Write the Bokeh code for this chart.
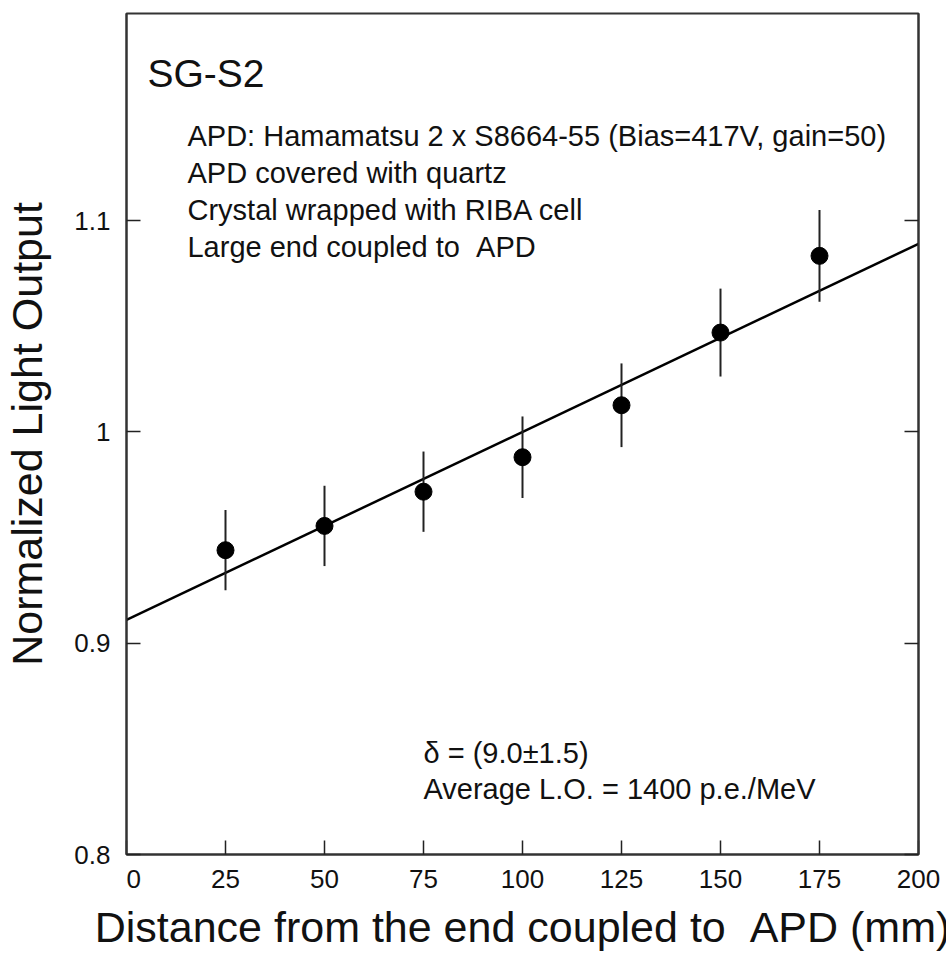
from bokeh.plotting import figure
from bokeh.models import (Range1d, LinearAxis, FixedTicker, Label,
                          ColumnDataSource, CustomJSTickFormatter,
                          CustomLabelingPolicy)
from bokeh.embed import file_html
from bokeh.resources import INLINE

# ---- data ----
dist = [25, 50, 75, 100, 125, 150, 175]
light = [0.944, 0.9555, 0.9717, 0.988, 1.0126, 1.047, 1.0833]
err = [0.019, 0.019, 0.019, 0.0193, 0.0198, 0.0208, 0.0217]
fit_x = [0, 200]
fit_y = [0.911, 1.089]
x_ticks = [0, 25, 50, 75, 100, 125, 150, 175, 200]
y_ticks = [0.8, 0.9, 1.0, 1.1]

FONT = "Liberation Sans"

src = ColumnDataSource(dict(
    x=dist, y=light,
    lo=[v - e for v, e in zip(light, err)],
    hi=[v + e for v, e in zip(light, err)],
))

p = figure(width=946, height=953, output_backend="svg", toolbar_location=None,
           x_range=Range1d(0, 200), y_range=Range1d(0.8, 1.198),
           min_border_left=126, min_border_right=28, min_border_top=13,
           min_border_bottom=98, background_fill_color="white",
           border_fill_color="white")
p.grid.visible = False
p.outline_line_color = "#333333"
p.outline_line_width = 2

# fit line
p.line(fit_x, fit_y, line_color="black", line_width=2.5)
# error bars
p.segment(x0="x", y0="lo", x1="x", y1="hi", source=src, line_color="#222222",
          line_width=2)
# points
p.scatter("x", "y", source=src, size=17, color="black")

# x axis
xa = p.xaxis[0]
xa.ticker = FixedTicker(ticks=x_ticks)
xa.formatter = CustomJSTickFormatter(
    code="return tick == 0 ? '\\u20070' : String(tick);")
xa.axis_label = "Distance from the end coupled to \u00a0APD (mm)"
ya = p.yaxis[0]
ya.ticker = FixedTicker(ticks=y_ticks)
ya.formatter = CustomJSTickFormatter(code="return String(Math.round(tick*10)/10);")
ya.axis_label = "Normalized Light Output"

for ax in (xa, ya):
    ax.major_tick_in = 14
    ax.major_tick_out = 0
    ax.minor_tick_in = 0
    ax.minor_tick_out = 0
    ax.axis_line_width = 2
    ax.axis_line_color = "#333333"
    ax.major_tick_line_width = 1.5
    ax.major_tick_line_color = "#222222"
    ax.major_label_text_font = FONT
    ax.major_label_text_font_size = "26px"
    ax.major_label_text_color = "#111111"
    ax.axis_label_text_font = FONT
    ax.axis_label_text_font_size = "43px"
    ax.axis_label_text_font_style = "normal"
    ax.axis_label_text_color = "#111111"

xa.major_label_standoff = 9
xa.axis_label_standoff = 6
ya.major_label_standoff = 16
ya.axis_label_standoff = 20

# right axis: inward ticks, no labels drawn
ra = LinearAxis(ticker=FixedTicker(ticks=y_ticks), major_tick_in=14,
                major_tick_out=0, minor_tick_in=0, minor_tick_out=0,
                major_label_text_font_size="0px", major_label_standoff=0,
                major_label_policy=CustomLabelingPolicy(code="return new Set()"),
                axis_line_width=2, axis_line_color="#333333",
                major_tick_line_width=1.5, major_tick_line_color="#222222")
p.add_layout(ra, "right")

# annotations
def note(x, y, t, size):
    p.add_layout(Label(x=x, y=y, text=t, text_align="left",
                       text_baseline="alphabetic", text_font=FONT,
                       text_font_size=size, text_color="#111111"))

note(5.3, 1.1697, "SG-S2", "39px")
note(15.4, 1.1400, "APD: Hamamatsu 2 x S8664-55 (Bias=417V, gain=50)", "29px")
note(15.4, 1.1225, "APD covered with quartz", "29px")
note(15.4, 1.1048, "Crystal wrapped with RIBA cell", "29px")
note(15.4, 1.0873, "Large end coupled to \u00a0APD", "29px")
note(75.0, 0.848, "\u03b4 = (9.0\u00b11.5)", "29px")
note(75.0, 0.831, "Average L.O. = 1400 p.e./MeV", "29px")

open("out.html", "w").write(file_html(p, INLINE))
